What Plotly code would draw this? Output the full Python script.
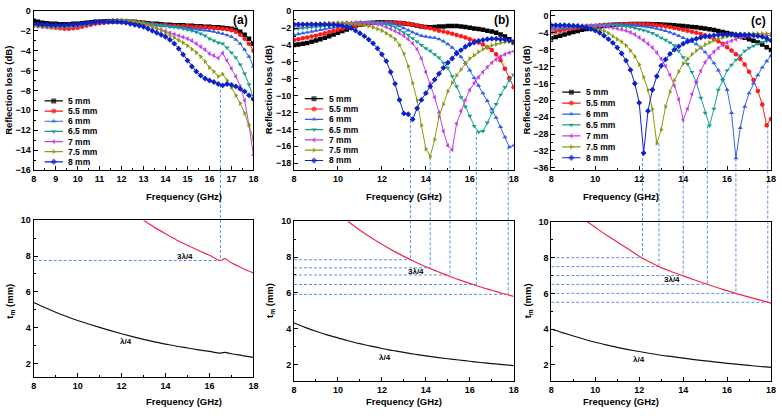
import plotly.graph_objects as go

W, H = 782, 418

# ---------------- data ----------------
FREQ = [8.0, 8.2, 8.4, 8.6, 8.8, 9.0, 9.2, 9.4, 9.6, 9.8,
        10.0, 10.2, 10.4, 10.6, 10.8, 11.0, 11.2, 11.4, 11.6, 11.8,
        12.0, 12.2, 12.4, 12.6, 12.8, 13.0, 13.2, 13.4, 13.6, 13.8,
        14.0, 14.2, 14.4, 14.6, 14.8, 15.0, 15.2, 15.4, 15.6, 15.8,
        16.0, 16.2, 16.4, 16.6, 16.8, 17.0, 17.2, 17.4, 17.6, 17.8,
        18.0]

THICK = ["5 mm", "5.5 mm", "6 mm", "6.5 mm", "7 mm", "7.5 mm", "8 mm"]

# panel (a) reflection loss (dB)
RL_A_5 = [-1.0, -1.1, -1.2, -1.25, -1.3, -1.3, -1.35, -1.35, -1.35, -1.3,
          -1.3, -1.25, -1.2, -1.15, -1.1, -1.1, -1.05, -1.05, -1.05, -1.05,
          -1.05, -1.05, -1.1, -1.1, -1.15, -1.2, -1.25, -1.3, -1.3, -1.35,
          -1.4, -1.4, -1.45, -1.45, -1.45, -1.5, -1.5, -1.55, -1.55, -1.6,
          -1.6, -1.65, -1.65, -1.7, -1.75, -1.8, -1.9, -2.1, -2.4, -2.8,
          -3.3]
RL_A_55 = [-1.45, -1.5, -1.55, -1.6, -1.65, -1.7, -1.75, -1.8, -1.8, -1.75,
           -1.7, -1.6, -1.5, -1.4, -1.3, -1.25, -1.2, -1.15, -1.1, -1.1,
           -1.05, -1.05, -1.1, -1.15, -1.2, -1.25, -1.3, -1.35, -1.4, -1.45,
           -1.45, -1.5, -1.5, -1.55, -1.55, -1.55, -1.6, -1.6, -1.65, -1.65,
           -1.7, -1.7, -1.75, -1.8, -1.85, -1.95, -2.1, -2.4, -2.8, -3.3,
           -4.0]
RL_A_6 = [-1.35, -1.4, -1.45, -1.5, -1.5, -1.55, -1.55, -1.55, -1.5, -1.5,
          -1.45, -1.4, -1.35, -1.3, -1.2, -1.15, -1.1, -1.05, -1.0, -1.0,
          -1.0, -1.0, -1.05, -1.1, -1.15, -1.25, -1.3, -1.35, -1.4, -1.45,
          -1.5, -1.55, -1.6, -1.65, -1.7, -1.75, -1.8, -1.85, -1.9, -1.95,
          -2.0, -2.1, -2.2, -2.3, -2.45, -2.6, -2.9, -3.3, -3.9, -4.6,
          -5.6]
RL_A_65 = [-1.5, -1.55, -1.6, -1.6, -1.65, -1.65, -1.65, -1.65, -1.6, -1.55,
           -1.5, -1.45, -1.35, -1.3, -1.2, -1.15, -1.1, -1.05, -1.0, -0.95,
           -0.95, -0.95, -1.0, -1.05, -1.15, -1.25, -1.3, -1.35, -1.4, -1.45,
           -1.5, -1.6, -1.65, -1.7, -1.8, -1.9, -2.0, -2.15, -2.3, -2.5,
           -2.8, -3.0, -3.2, -3.3, -3.7, -4.2, -4.7, -5.4, -6.3, -7.4,
           -8.8]
RL_A_7 = [-1.5, -1.55, -1.6, -1.65, -1.65, -1.65, -1.65, -1.6, -1.6, -1.55,
          -1.5, -1.4, -1.35, -1.25, -1.2, -1.1, -1.05, -1.0, -0.95, -0.95,
          -0.95, -1.0, -1.05, -1.1, -1.2, -1.3, -1.45, -1.6, -1.75, -1.9,
          -2.0, -2.2, -2.35, -2.5, -2.65, -2.8, -3.0, -3.3, -3.6, -3.9,
          -4.3, -4.5, -4.75, -4.25, -5.0, -5.8, -6.6, -7.6, -9.0, -11.5,
          -14.5]
RL_A_75 = [-1.5, -1.55, -1.6, -1.6, -1.65, -1.65, -1.65, -1.6, -1.55, -1.5,
           -1.45, -1.4, -1.3, -1.25, -1.15, -1.1, -1.05, -1.0, -0.95, -0.95,
           -0.95, -1.0, -1.05, -1.1, -1.15, -1.25, -1.4, -1.55, -1.75, -1.95,
           -2.2, -2.45, -2.7, -2.95, -3.2, -3.5, -3.85, -4.2, -4.6, -5.1,
           -5.7, -6.1, -6.6, -6.35, -7.0, -7.7, -8.5, -9.3, -10.3, -11.5,
           -12.9]
RL_A_8 = [-1.3, -1.35, -1.4, -1.4, -1.45, -1.45, -1.45, -1.45, -1.4, -1.4,
          -1.35, -1.3, -1.25, -1.2, -1.15, -1.1, -1.1, -1.1, -1.1, -1.1,
          -1.15, -1.2, -1.3, -1.4, -1.5, -1.6, -1.8, -2.0, -2.2, -2.4,
          -2.6, -2.9, -3.3, -3.8, -4.4, -5.0, -5.6, -6.1, -6.5, -6.8,
          -7.0, -7.15, -7.35, -7.5, -7.35, -7.45, -7.6, -7.85, -8.1, -8.5,
          -8.9]

# panel (b)
RL_B_5 = [-4.0, -3.95, -3.85, -3.75, -3.6, -3.45, -3.3, -3.15, -2.95, -2.75,
          -2.55, -2.35, -2.15, -1.95, -1.75, -1.6, -1.5, -1.4, -1.35, -1.3,
          -1.3, -1.3, -1.3, -1.35, -1.4, -1.45, -1.5, -1.6, -1.7, -1.8,
          -1.85, -1.9, -1.85, -1.8, -1.8, -1.75, -1.75, -1.75, -1.8, -1.85,
          -1.95, -2.05, -2.1, -2.2, -2.3, -2.4, -2.55, -2.75, -3.0, -3.3,
          -3.7]
RL_B_55 = [-3.4, -3.3, -3.2, -3.1, -3.0, -2.9, -2.75, -2.6, -2.45, -2.3,
           -2.2, -2.05, -1.9, -1.8, -1.7, -1.6, -1.5, -1.45, -1.4, -1.35,
           -1.35, -1.3, -1.3, -1.35, -1.4, -1.45, -1.5, -1.6, -1.7, -1.8,
           -1.9, -2.0, -2.15, -2.3, -2.4, -2.5, -2.65, -2.8, -2.95, -3.1,
           -3.3, -3.5, -3.7, -3.95, -4.25, -4.6, -5.1, -5.8, -6.8, -7.9,
           -9.0]
RL_B_6 = [-2.8, -2.7, -2.6, -2.5, -2.4, -2.3, -2.2, -2.1, -2.0, -1.9,
          -1.8, -1.7, -1.6, -1.55, -1.5, -1.45, -1.4, -1.35, -1.3, -1.3,
          -1.3, -1.3, -1.4, -1.55, -1.75, -2.0, -2.25, -2.5, -2.7, -2.9,
          -3.0, -3.1, -3.15, -3.3, -3.55, -3.9, -4.3, -4.8, -5.4, -6.1,
          -7.0, -7.9, -8.8, -9.7, -10.6, -11.6, -12.6, -13.7, -14.9, -16.1,
          -15.9]
RL_B_65 = [-2.1, -2.05, -2.0, -1.95, -1.9, -1.85, -1.8, -1.75, -1.7, -1.6,
           -1.55, -1.5, -1.45, -1.4, -1.35, -1.3, -1.3, -1.3, -1.35, -1.4,
           -1.45, -1.55, -1.7, -1.9, -2.2, -2.5, -2.8, -3.2, -3.6, -4.0,
           -4.4, -4.7, -5.1, -5.5, -6.1, -6.7, -7.7, -8.9, -10.2, -11.3,
           -12.4, -13.6, -14.3, -14.2, -13.2, -12.0, -11.0, -9.9, -9.0, -8.2,
           -7.5]
RL_B_7 = [-1.8, -1.75, -1.7, -1.65, -1.6, -1.6, -1.55, -1.5, -1.5, -1.45,
          -1.4, -1.4, -1.35, -1.35, -1.3, -1.3, -1.35, -1.4, -1.45, -1.55,
          -1.65, -1.85, -2.1, -2.35, -2.6, -2.9, -3.3, -3.8, -4.5, -5.6,
          -7.2, -8.6, -10.2, -12.0, -14.2, -15.9, -16.4, -13.3, -11.8, -10.5,
          -9.3, -8.5, -7.8, -7.2, -6.6, -6.1, -5.7, -5.35, -5.1, -4.9,
          -4.75]
RL_B_75 = [-1.6, -1.6, -1.55, -1.55, -1.5, -1.5, -1.45, -1.45, -1.4, -1.4,
           -1.4, -1.4, -1.4, -1.45, -1.5, -1.55, -1.65, -1.75, -1.9, -2.1,
           -2.3, -2.6, -2.9, -3.3, -4.0, -5.0, -6.5, -8.5, -10.5, -13.5,
           -16.3, -17.2, -15.2, -12.5, -11.0, -9.5, -8.5, -7.6, -6.9, -6.2,
           -5.6, -5.2, -4.8, -4.5, -4.25, -4.05, -3.9, -3.75, -3.65, -3.6,
           -3.55]
RL_B_8 = [-1.55, -1.55, -1.55, -1.55, -1.55, -1.55, -1.55, -1.55, -1.6, -1.6,
          -1.65, -1.7, -1.85, -2.0, -2.3, -2.6, -2.95, -3.35, -3.8, -4.4,
          -5.1, -5.9, -7.2, -8.6, -10.5, -12.1, -12.2, -12.8, -11.5, -10.5,
          -9.7, -8.9, -8.1, -7.4, -6.7, -6.1, -5.6, -5.0, -4.6, -4.2,
          -3.9, -3.7, -3.5, -3.4, -3.3, -3.25, -3.25, -3.3, -3.35, -3.45,
          -3.6]

# panel (c)
RL_C_5 = [-5.3, -5.0, -4.7, -4.4, -4.1, -3.8, -3.55, -3.3, -3.1, -2.9,
          -2.7, -2.55, -2.4, -2.25, -2.15, -2.05, -2.0, -1.95, -1.9, -1.9,
          -1.9, -1.9, -1.9, -1.95, -2.0, -2.05, -2.1, -2.15, -2.2, -2.3,
          -2.4, -2.5, -2.6, -2.7, -2.85, -3.0, -3.15, -3.35, -3.55, -3.8,
          -4.05, -4.3, -4.6, -4.9, -5.2, -5.5, -5.9, -6.3, -6.8, -7.4,
          -8.1]
RL_C_55 = [-4.0, -3.75, -3.5, -3.3, -3.1, -2.95, -2.8, -2.65, -2.5, -2.4,
           -2.3, -2.2, -2.1, -2.05, -2.0, -1.95, -1.9, -1.9, -1.9, -1.9,
           -1.9, -1.95, -2.0, -2.1, -2.2, -2.35, -2.5, -2.65, -2.85, -3.05,
           -3.25, -3.5, -3.75, -4.0, -4.3, -4.6, -5.0, -5.5, -6.0, -6.6,
           -7.4, -8.2, -9.1, -10.2, -11.5, -13.2, -15.2, -17.8, -21.0, -25.9,
           -24.4]
RL_C_6 = [-3.2, -3.1, -3.0, -2.9, -2.8, -2.7, -2.6, -2.5, -2.4, -2.3,
          -2.2, -2.15, -2.1, -2.05, -2.0, -2.0, -2.05, -2.1, -2.15, -2.25,
          -2.35, -2.5, -2.65, -2.8, -3.0, -3.25, -3.55, -3.9, -4.3, -4.7,
          -5.2, -5.6, -6.1, -6.7, -7.6, -8.6, -9.8, -11.2, -12.9, -15.0,
          -17.5, -23.0, -33.7, -26.5, -21.5, -18.3, -16.0, -14.0, -12.2, -10.7,
          -9.4]
RL_C_65 = [-3.0, -2.9, -2.8, -2.7, -2.6, -2.5, -2.45, -2.4, -2.3, -2.25,
           -2.2, -2.15, -2.15, -2.15, -2.2, -2.25, -2.35, -2.5, -2.65, -2.85,
           -3.1, -3.4, -3.7, -4.1, -4.6, -5.2, -5.7, -6.3, -7.0, -8.3,
           -9.8, -11.4, -13.3, -15.8, -19.4, -23.0, -26.0, -22.0, -17.5, -15.3,
           -12.9, -11.6, -10.4, -9.4, -8.3, -7.6, -7.1, -6.6, -6.2, -6.0,
           -5.9]
RL_C_7 = [-2.8, -2.7, -2.6, -2.5, -2.45, -2.4, -2.35, -2.3, -2.3, -2.3,
          -2.3, -2.35, -2.45, -2.6, -2.8, -3.0, -3.2, -3.5, -3.9, -4.4,
          -5.1, -5.8, -6.6, -7.5, -8.7, -10.2, -11.9, -14.0, -16.5, -19.8,
          -24.6, -22.0, -18.5, -15.5, -13.0, -11.0, -9.6, -8.5, -7.6, -6.9,
          -6.3, -5.9, -5.5, -5.2, -5.0, -4.8, -4.7, -4.6, -4.55, -4.6,
          -4.7]
RL_C_75 = [-2.5, -2.45, -2.4, -2.4, -2.4, -2.4, -2.45, -2.5, -2.6, -2.75,
           -2.95, -3.2, -3.6, -4.1, -4.8, -5.5, -6.1, -7.0, -8.2, -9.6,
           -11.5, -14.5, -17.5, -22.1, -30.2, -27.0, -21.5, -18.0, -15.3, -13.2,
           -11.3, -10.2, -9.1, -8.2, -7.4, -6.8, -6.3, -5.8, -5.4, -5.1,
           -4.85, -4.65, -4.5, -4.4, -4.3, -4.25, -4.2, -4.2, -4.2, -4.2,
           -4.25]
RL_C_8 = [-2.2, -2.2, -2.2, -2.2, -2.25, -2.3, -2.4, -2.55, -2.75, -3.1,
          -3.5, -4.0, -4.7, -5.5, -6.4, -7.5, -8.9, -10.6, -12.8, -16.0,
          -20.6, -32.5, -22.5, -17.5, -14.3, -11.8, -10.3, -9.0, -8.0, -7.2,
          -6.6, -6.1, -5.7, -5.4, -5.1, -4.9, -4.75, -4.6, -4.5, -4.45,
          -4.4, -4.4, -4.4, -4.4, -4.45, -4.5, -4.6, -4.75, -4.95, -5.3,
          -5.8]

# quarter-wavelength thickness t_m (mm)
TF_A = [8, 8.5, 9, 9.5, 10, 10.5, 11, 11.5, 12, 12.5, 13, 13.5, 14, 14.5,
        15, 15.5, 16, 16.5, 16.7, 17, 17.5, 18]
Q1_A = [5.4, 5.12, 4.86, 4.62, 4.4, 4.2, 4.01, 3.83, 3.66, 3.5, 3.34, 3.2,
        3.08, 2.96, 2.86, 2.76, 2.67, 2.58, 2.62, 2.54, 2.44, 2.34]
TF3_A = [13, 13.5, 14, 14.5, 15, 15.5, 16, 16.5, 16.7, 17, 17.5, 18]
Q3_A = [10.0, 9.6, 9.24, 8.9, 8.6, 8.31, 8.04, 7.75, 7.85, 7.62, 7.32, 7.05]

TF_BC = [8, 8.5, 9, 9.5, 10, 10.5, 11, 11.5, 12, 12.5, 13, 13.5, 14, 14.5,
         15, 15.5, 16, 16.5, 17, 17.5, 18]
Q1_B = [4.32, 4.08, 3.86, 3.66, 3.49, 3.32, 3.17, 3.03, 2.9, 2.79, 2.68,
        2.58, 2.49, 2.41, 2.33, 2.26, 2.19, 2.12, 2.06, 2.0, 1.95]
TF3_B = [10.45, 11, 11.5, 12, 12.5, 13, 13.5, 14, 14.5, 15, 15.5, 16, 16.5,
         17, 17.5, 18]
Q3_B = [10.0, 9.5, 9.09, 8.71, 8.36, 8.04, 7.74, 7.46, 7.21, 6.97, 6.74,
        6.53, 6.33, 6.15, 5.97, 5.81]
Q1_C = [4.0, 3.8, 3.61, 3.43, 3.26, 3.11, 2.97, 2.85, 2.74, 2.63, 2.53,
        2.45, 2.37, 2.29, 2.22, 2.15, 2.08, 2.02, 1.96, 1.9, 1.85]
TF3_C = [9.65, 10, 10.5, 11, 11.5, 12, 12.5, 13, 13.5, 14, 14.5, 15, 15.5,
         16, 16.5, 17, 17.5, 18]
Q3_C = [10.0, 9.7, 9.27, 8.88, 8.48, 8.08, 7.74, 7.44, 7.2, 6.98, 6.76,
        6.55, 6.34, 6.15, 5.96, 5.79, 5.62, 5.45]

# matching points (frequency of RL minimum, RL minimum, thickness)
MATCH_A_F = [16.5]
MATCH_A_RL = [-7.45]
MATCH_A_T = [7.75]
MATCH_B_F = [13.3, 14.2, 15.1, 16.3, 17.75]
MATCH_B_RL = [-12.9, -17.3, -16.5, -14.3, -16.1]
MATCH_B_T = [7.85, 7.4, 7.0, 6.47, 5.92]
MATCH_C_F = [12.15, 12.9, 14.0, 15.1, 16.4, 17.85]
MATCH_C_RL = [-32.5, -30.2, -24.8, -26.0, -33.8, -26.0]
MATCH_C_T = [8.0, 7.5, 7.0, 6.5, 6.0, 5.5]

# ---------------- styling / layout ----------------
COLORS = ["#000000", "#ff1a1a", "#2f62e8", "#16a08c", "#c43ee6", "#8a9a14", "#0c22c8"]
SYMBOLS = ["square", "circle", "triangle-up", "triangle-down",
           "triangle-left", "triangle-right", "diamond"]
DASH_COLOR = "#5b8ff0"
FONT = "Liberation Sans, Arial, sans-serif"

PANELS = {
    "a": dict(xpx=(31, 253), top=("x", "y"), bot=("x4", "y4"),
              top_range=(-16, 0), top_dtick=2, top_minor=1, top_xdtick=1, top_xminor=0.5,
              bot_px=(220.5, 381.5), bot_range=(1.22, 10),
              rl=[RL_A_5, RL_A_55, RL_A_6, RL_A_65, RL_A_7, RL_A_75, RL_A_8],
              q1=(TF_A, Q1_A), q3=(TF3_A, Q3_A),
              match=(MATCH_A_F, MATCH_A_RL, MATCH_A_T),
              leg_y0=98.3, leg_dy=10.4, label="(a)", label_px=(250, 15),
              t34=(14.9, 8.0), t14=(12.2, 3.2)),
    "b": dict(xpx=(294, 516), top=("x2", "y2"), bot=("x5", "y5"),
              top_range=(-18.8, 0.05), top_dtick=2, top_minor=1, top_xdtick=2, top_xminor=1,
              bot_px=(221.5, 385), bot_range=(1.1, 10),
              rl=[RL_B_5, RL_B_55, RL_B_6, RL_B_65, RL_B_7, RL_B_75, RL_B_8],
              q1=(TF_BC, Q1_B), q3=(TF3_B, Q3_B),
              match=(MATCH_B_F, MATCH_B_RL, MATCH_B_T),
              leg_y0=96, leg_dy=10.55, label="(b)", label_px=(513, 15),
              t34=(13.55, 7.17), t14=(12.15, 2.4)),
    "c": dict(xpx=(554, 776), top=("x3", "y3"), bot=("x6", "y6"),
              top_range=(-36.5, 1.2), top_dtick=4, top_minor=2, top_xdtick=2, top_xminor=1,
              bot_px=(222.3, 385), bot_range=(1.1, 10),
              rl=[RL_C_5, RL_C_55, RL_C_6, RL_C_65, RL_C_7, RL_C_75, RL_C_8],
              q1=(TF_BC, Q1_C), q3=(TF3_C, Q3_C),
              match=(MATCH_C_F, MATCH_C_RL, MATCH_C_T),
              leg_y0=89.3, leg_dy=11.2, label="(c)", label_px=(773, 16),
              t34=(13.5, 6.75), t14=(12.0, 2.3)),
}
TOP_PX = (6, 169)
XR = (8, 18)


def px2paper_x(px):
    return px / W


def px2paper_y(py):
    return 1 - py / H


def val2py(v, rng, pxr):
    return pxr[0] + (rng[1] - v) / (rng[1] - rng[0]) * (pxr[1] - pxr[0])


def py2val(py, rng, pxr):
    return rng[1] - (py - pxr[0]) / (pxr[1] - pxr[0]) * (rng[1] - rng[0])


def px2val_x(px, xpx):
    return XR[0] + (px - xpx[0]) / (xpx[1] - xpx[0]) * (XR[1] - XR[0])


fig = go.Figure()
layout = dict(width=W, height=H, margin=dict(l=0, r=0, t=0, b=0),
              paper_bgcolor="white", plot_bgcolor="rgba(0,0,0,0)",
              showlegend=False, font=dict(family=FONT, color="black"))
shapes, annotations = [], []

tickfont = dict(family=FONT, size=9, color="black", weight="bold")
titlefont = dict(family=FONT, size=9.5, color="black", weight="bold")


def axis_common(dtick, tick0, minor_dtick):
    return dict(showline=True, linecolor="black", linewidth=1, mirror=True,
                ticks="inside", ticklen=4, tickcolor="black", tickwidth=1,
                tickmode="linear", dtick=dtick, tick0=tick0,
                ticklabeloverflow="allow",
                minor=dict(ticks="inside", ticklen=2, tickcolor="black", dtick=minor_dtick,
                           tick0=tick0, showgrid=False),
                showgrid=False, zeroline=False, tickfont=tickfont)


def axname(ref):
    return ref[0] + "axis" + ref[1:]


for key, p in PANELS.items():
    xdom = [px2paper_x(p["xpx"][0]), px2paper_x(p["xpx"][1])]
    tx, ty = p["top"]
    bx, by = p["bot"]
    # top axes
    layout[axname(tx)] = dict(domain=xdom, range=list(XR), anchor=ty,
                              **axis_common(p["top_xdtick"], 8, p["top_xminor"]))
    layout[axname(ty)] = dict(domain=[px2paper_y(TOP_PX[1]), px2paper_y(TOP_PX[0])],
                              range=list(p["top_range"]), anchor=tx,
                              **axis_common(p["top_dtick"], 0, p["top_minor"]))
    layout[axname(bx)] = dict(domain=xdom, range=list(XR), anchor=by,
                              **axis_common(2, 8, 1))
    layout[axname(by)] = dict(domain=[px2paper_y(p["bot_px"][1]), px2paper_y(p["bot_px"][0])],
                              range=list(p["bot_range"]), anchor=bx,
                              **axis_common(2, 0, 1))

    # reflection loss curves
    for i, ys in enumerate(p["rl"]):
        fig.add_trace(go.Scatter(x=FREQ, y=ys, xaxis=tx, yaxis=ty, mode="lines+markers",
                                 name=THICK[i], cliponaxis=True,
                                 line=dict(color=COLORS[i], width=1),
                                 marker=dict(symbol=SYMBOLS[i], size=4.5, color=COLORS[i],
                                             line=dict(width=0))))

    # custom compact legend
    for i, name in enumerate(THICK):
        py = p["leg_y0"] + i * p["leg_dy"]
        yv = py2val(py, p["top_range"], TOP_PX)
        xa = px2val_x(p["xpx"][0] + 11, p["xpx"])
        xb = px2val_x(p["xpx"][0] + 29.5, p["xpx"])
        fig.add_trace(go.Scatter(x=[xa, (xa + xb) / 2, xb], y=[yv, yv, yv], xaxis=tx, yaxis=ty,
                                 mode="lines+markers", hoverinfo="skip",
                                 line=dict(color=COLORS[i], width=1.2),
                                 marker=dict(symbol=SYMBOLS[i], size=[0, 5, 0], color=COLORS[i],
                                             line=dict(width=0))))
        annotations.append(dict(x=px2val_x(p["xpx"][0] + 33, p["xpx"]), y=yv, xref=tx, yref=ty,
                                text=name, showarrow=False, xanchor="left", yanchor="middle",
                                font=dict(family=FONT, size=8.5, color="black", weight="bold")))

    # thickness curves
    fig.add_trace(go.Scatter(x=p["q1"][0], y=p["q1"][1], xaxis=bx, yaxis=by, mode="lines",
                             line=dict(color="#111111", width=1.2), line_shape="spline"))
    fig.add_trace(go.Scatter(x=p["q3"][0], y=p["q3"][1], xaxis=bx, yaxis=by, mode="lines",
                             line=dict(color="#f0284e", width=1.2), line_shape="spline"))
    annotations.append(dict(x=p["t34"][0], y=p["t34"][1], xref=bx, yref=by, text="3λ/4",
                            showarrow=False, font=dict(family=FONT, size=8, color="black",
                                                       weight="bold")))
    annotations.append(dict(x=p["t14"][0], y=p["t14"][1], xref=bx, yref=by, text="λ/4",
                            showarrow=False, font=dict(family=FONT, size=8, color="black",
                                                       weight="bold")))

    # matching dashed lines
    mf, mrl, mt = p["match"]
    for f, rl, t in zip(mf, mrl, mt):
        y0 = px2paper_y(val2py(rl, p["top_range"], TOP_PX))
        y1 = px2paper_y(val2py(t, p["bot_range"], p["bot_px"]))
        shapes.append(dict(type="line", xref=tx, yref="paper", x0=f, x1=f, y0=y0, y1=y1,
                           layer="below", line=dict(color=DASH_COLOR, width=1, dash="3px,2px")))
        shapes.append(dict(type="line", xref=bx, yref=by, x0=8, x1=f, y0=t, y1=t,
                           layer="below", line=dict(color=DASH_COLOR, width=1, dash="3px,2px")))

    # panel label
    annotations.append(dict(x=px2paper_x(p["label_px"][0]), y=px2paper_y(p["label_px"][1]),
                            xref="paper", yref="paper", text=p["label"], showarrow=False,
                            xanchor="right", yanchor="middle",
                            font=dict(family=FONT, size=12, color="black", weight="bold")))

    # axis titles
    cx = (p["xpx"][0] + p["xpx"][1]) / 2
    annotations.append(dict(x=px2paper_x(cx), y=px2paper_y(196), xref="paper", yref="paper",
                            text="Frequency (GHz)", showarrow=False, yanchor="middle",
                            font=titlefont))
    annotations.append(dict(x=px2paper_x(cx), y=px2paper_y(406), xref="paper", yref="paper",
                            text="Frequency (GHz)", showarrow=False, yanchor="middle",
                            font=titlefont))
    annotations.append(dict(x=px2paper_x(p["xpx"][0] - 25), y=px2paper_y(87), xref="paper",
                            yref="paper", text="Reflection loss (dB)", showarrow=False,
                            textangle=-90, xanchor="center", yanchor="middle", font=titlefont))
    annotations.append(dict(x=px2paper_x(p["xpx"][0] - 24), y=px2paper_y(303), xref="paper",
                            yref="paper", text="t<sub>m</sub> (mm)", showarrow=False,
                            textangle=-90, xanchor="center", yanchor="middle", font=titlefont))

layout["shapes"] = shapes
layout["annotations"] = annotations
fig.update_layout(**layout)
fig.write_html("out.html", config={"displayModeBar": False},
               post_script="document.body.style.margin='0';document.body.style.overflow='hidden';")
